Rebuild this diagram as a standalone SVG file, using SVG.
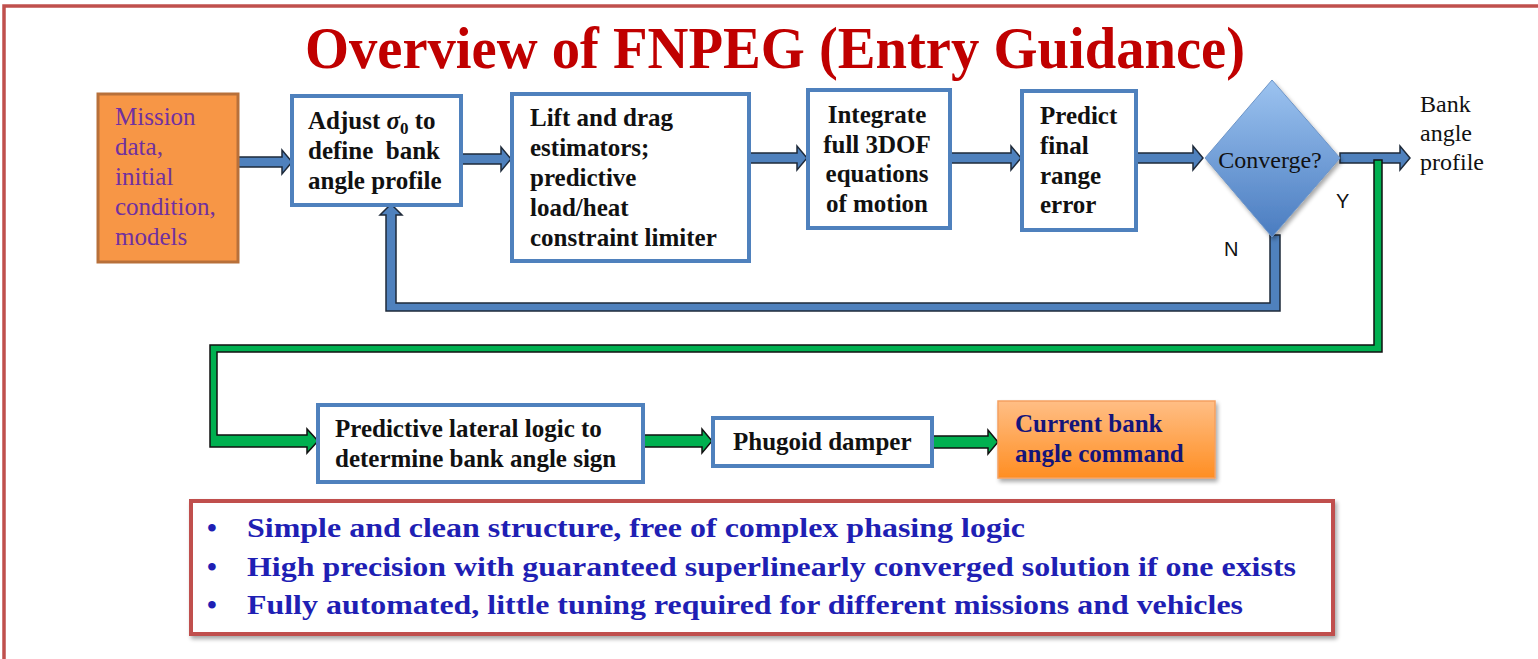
<svg xmlns="http://www.w3.org/2000/svg" width="1538" height="659" viewBox="0 0 1538 659">
<defs>
<linearGradient id="gDia" x1="0" y1="0" x2="0" y2="1">
<stop offset="0" stop-color="#9CC3F0"/>
<stop offset="1" stop-color="#4A7CC0"/>
</linearGradient>
<linearGradient id="gOr" x1="0" y1="0" x2="0" y2="1">
<stop offset="0" stop-color="#FFBE85"/>
<stop offset="1" stop-color="#FF8E22"/>
</linearGradient>
<filter id="sh" x="-10%" y="-10%" width="130%" height="130%">
<feGaussianBlur in="SourceAlpha" stdDeviation="2"/>
<feOffset dx="2" dy="3" result="b"/>
<feComponentTransfer><feFuncA type="linear" slope="0.35"/></feComponentTransfer>
<feMerge><feMergeNode/><feMergeNode in="SourceGraphic"/></feMerge>
</filter>
</defs>
<style>
.box{fill:#fff;stroke:#4F81BD;stroke-width:4}
.bt{font-family:"Liberation Serif",serif;font-weight:bold;font-size:25px;fill:#111}
.rt{font-family:"Liberation Serif",serif;font-size:24px;fill:#111}
.ba{fill:#4F81BD;stroke:#1E2A3A;stroke-width:1.5;stroke-linejoin:miter}
.ga{fill:#00B050;stroke:#111;stroke-width:1.5}
.lbl{font-family:"Liberation Sans",sans-serif;font-size:20px;fill:#111}
.bul{font-family:"Liberation Serif",serif;font-weight:bold;font-size:28px;fill:#1F1FB4}
</style>
<rect width="1538" height="659" fill="#fff"/>
<g id="frame">
<path d="M4,659 V6 H1538" fill="none" stroke="#C0504D" stroke-width="3.5"/>
</g>
<g id="title">
<text x="305" y="68" textLength="940" lengthAdjust="spacingAndGlyphs" font-family="Liberation Serif, serif" font-weight="bold" font-size="60" fill="#C00000">Overview of FNPEG (Entry Guidance)</text>
</g>
<g id="connectors">
<polygon class="ba" points="237,157 282,157 282,150 292,162 282,174 282,167 237,167"/>
<polygon class="ba" points="461,154 501,154 501,147 511,159 501,171 501,164 461,164"/>
<polygon class="ba" points="749,153 797,153 797,146 807,158 797,170 797,163 749,163"/>
<polygon class="ba" points="950,153 1011,153 1011,146 1021,158 1011,170 1011,163 950,163"/>
<polygon class="ba" points="1136,153 1193,153 1193,146 1203,158 1193,170 1193,163 1136,163"/>
<polygon class="ba" points="1340,153 1400,153 1400,146 1410,158 1400,170 1400,163 1340,163"/>
<polygon class="ba" points="1270,235 1280,235 1280,311 386,311 386,215 380,215 391,204 402,215 396,215 396,303 1270,303"/>
<polygon class="ga" points="1374,160 1382,160 1382,352 217,352 217,435 307,435 307,429 318,441 307,453 307,447 210,447 210,345 1374,345"/>
<polygon class="ga" points="643,435 702,435 702,429 712,441 702,453 702,447 643,447"/>
<polygon class="ga" points="932,436 988,436 988,430 998,442 988,454 988,448 932,448"/>
</g>
<g id="n_mission">
<rect x="98" y="94" width="140" height="168" fill="#F79646" stroke="#B8703A" stroke-width="3"/>
<g font-family="Liberation Serif, serif" font-size="25" fill="#7030A0">
<text x="115" y="125">Mission</text>
<text x="115" y="155">data,</text>
<text x="115" y="185">initial</text>
<text x="115" y="215">condition,</text>
<text x="115" y="245">models</text>
</g>
</g>
<g id="n_adjust">
<rect class="box" x="292" y="96" width="169" height="109"/>
<text class="bt" x="308" y="129">Adjust <tspan font-style="italic">σ</tspan><tspan font-size="17" dy="5">0</tspan><tspan dy="-5"> to</tspan></text>
<text class="bt" x="308" y="159">define&#160; bank</text>
<text class="bt" x="308" y="189">angle profile</text>
</g>
<g id="n_lift">
<rect class="box" x="512" y="94" width="237" height="167"/>
<text class="bt" x="530" y="126">Lift and drag</text>
<text class="bt" x="530" y="156">estimators;</text>
<text class="bt" x="530" y="186">predictive</text>
<text class="bt" x="530" y="216">load/heat</text>
<text class="bt" x="530" y="246">constraint limiter</text>
</g>
<g id="n_integrate">
<rect class="box" x="808" y="90" width="142" height="138"/>
<text class="bt" x="877" y="123" text-anchor="middle">Integrate</text>
<text class="bt" x="877" y="153" text-anchor="middle">full 3DOF</text>
<text class="bt" x="877" y="182" text-anchor="middle">equations</text>
<text class="bt" x="877" y="212" text-anchor="middle">of motion</text>
</g>
<g id="n_predict">
<rect class="box" x="1022" y="91" width="114" height="139"/>
<text class="bt" x="1040" y="124">Predict</text>
<text class="bt" x="1040" y="154">final</text>
<text class="bt" x="1040" y="184">range</text>
<text class="bt" x="1040" y="213">error</text>
</g>
<g id="n_converge">
<polygon points="1272,80 1340,158 1272,237 1205,158" fill="url(#gDia)" stroke="#6D95C8" stroke-width="1" filter="url(#sh)"/>
<text class="rt" x="1270" y="168" text-anchor="middle">Converge?</text>
<text class="lbl" x="1336" y="208">Y</text>
<text class="lbl" x="1224" y="256">N</text>
</g>
<g id="n_bankout">
<text class="rt" x="1420" y="112">Bank</text>
<text class="rt" x="1420" y="141">angle</text>
<text class="rt" x="1420" y="170">profile</text>
</g>
<g id="n_lateral">
<rect class="box" x="318" y="405" width="325" height="77"/>
<text class="bt" x="335" y="437">Predictive lateral logic to</text>
<text class="bt" x="335" y="467">determine bank angle sign</text>
</g>
<g id="n_phugoid">
<rect class="box" x="713" y="418" width="219" height="48"/>
<text class="bt" x="733" y="450">Phugoid damper</text>
</g>
<g id="n_current">
<rect x="998" y="401" width="217" height="77" fill="url(#gOr)" stroke="#F5A060" stroke-width="1.5" filter="url(#sh)"/>
<text class="bt" x="1015" y="432" style="fill:#14147A">Current bank</text>
<text class="bt" x="1015" y="462" style="fill:#14147A">angle command</text>
</g>
<g id="n_bullets">
<rect x="191" y="501" width="1142" height="133" fill="#fff" stroke="#C0504D" stroke-width="4" filter="url(#sh)"/>
<text class="bul" x="207" y="537">•</text>
<text class="bul" x="207" y="576">•</text>
<text class="bul" x="207" y="614">•</text>
<text class="bul" x="247" y="537" textLength="778" lengthAdjust="spacingAndGlyphs">Simple and clean structure, free of complex phasing logic</text>
<text class="bul" x="247" y="576" textLength="1049" lengthAdjust="spacingAndGlyphs">High precision with guaranteed superlinearly converged solution if one exists</text>
<text class="bul" x="247" y="614" textLength="996" lengthAdjust="spacingAndGlyphs">Fully automated, little tuning required for different missions and vehicles</text>
</g>
</svg>
